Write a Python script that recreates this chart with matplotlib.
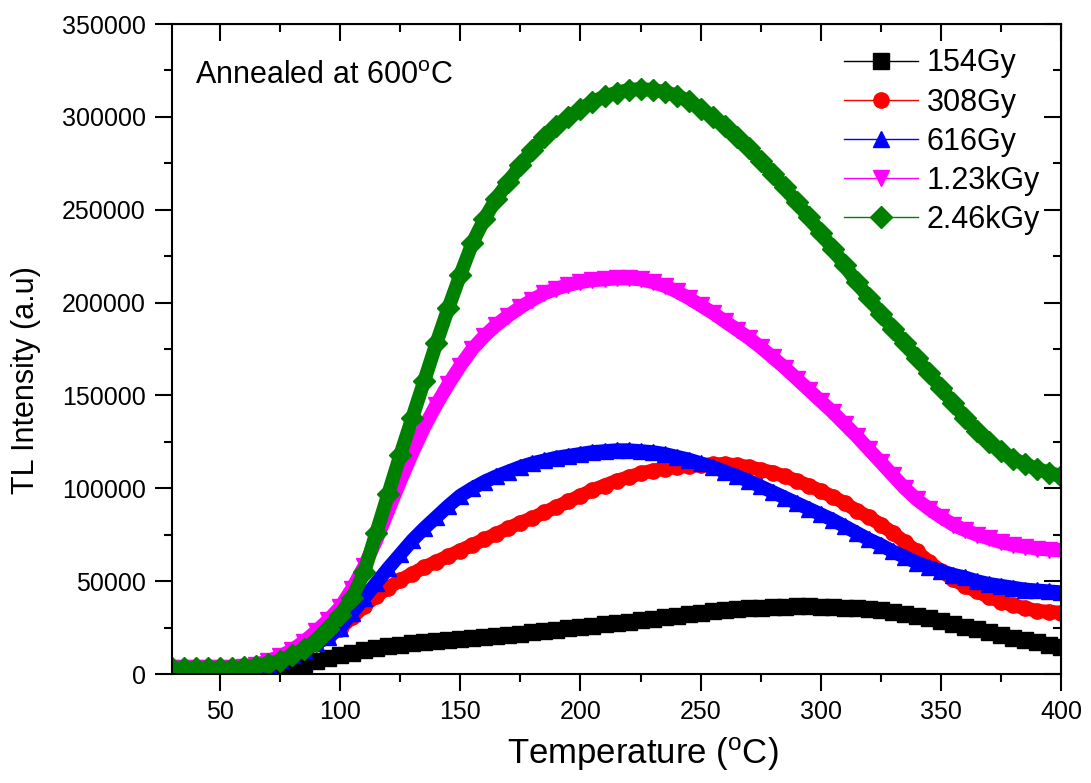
import numpy as np
import matplotlib
matplotlib.use("Agg")
import matplotlib.pyplot as plt
from matplotlib.ticker import MultipleLocator

plt.rcParams['font.family'] = ['Liberation Sans', 'DejaVu Sans']
plt.rcParams['mathtext.fontset'] = 'custom'
plt.rcParams['mathtext.rm'] = 'Liberation Sans'
plt.rcParams['mathtext.it'] = 'Liberation Sans:italic'

# temperature axis, 30..400 C
temp = np.arange(30, 401, 5)

# TL intensity (a.u.)
gy154 = [1000, 1000, 1000, 1000, 1000, 1000, 1000, 1200, 1600, 2500, 4000, 5500, 7000, 8500, 10000,
         11500, 12800, 14000, 15000, 15800, 16500, 17200, 17800, 18300, 18800, 19300, 19900, 20500, 21100, 21800,
         22500, 23200, 23900, 24600, 25300, 26000, 26700, 27400, 28200, 29000, 29800, 30600, 31400, 32200, 33000,
         33700, 34300, 34900, 35400, 35800, 36100, 36300, 36400, 36400, 36300, 36100, 35800, 35400, 34900, 34200,
         33400, 32400, 31200, 29900, 28500, 27000, 25500, 24000, 22500, 21000, 19500, 18200, 17000, 15800, 14700]

gy308 = [3000, 3000, 3000, 3000, 3000, 3100, 3400, 4200, 5500, 7500, 10000, 13000, 16500, 20000, 24500,
         30500, 36500, 42000, 46500, 50500, 54000, 57500, 60500, 63500, 66500, 69500, 72500, 75500, 78500, 81500,
         84000, 87000, 90000, 93000, 96000, 99000, 101500, 104000, 106000, 108000, 109500, 110500, 111500, 112000, 112500,
         113000, 113000, 112500, 111500, 110000, 108500, 106500, 104000, 101500, 98500, 95500, 92000, 88000, 84500, 80500,
         76000, 71000, 66000, 60500, 55500, 51000, 47500, 44500, 41500, 39000, 37000, 35500, 34000, 33500, 33000]

gy616 = [3000, 3000, 3000, 3000, 3000, 3100, 3400, 4200, 5500, 7500, 10000, 13000, 16500, 20000, 25000,
         33000, 41000, 49000, 57000, 64500, 72000, 78500, 84500, 90500, 96000, 100000, 103500, 106500, 109000, 111500,
         113500, 115000, 116500, 117500, 118500, 119500, 120000, 120500, 120500, 120000, 119500, 118500, 117000, 115500, 113500,
         111500, 109000, 106500, 104000, 101000, 98000, 95000, 92000, 89000, 86000, 83000, 79500, 76000, 72500, 69500,
         66000, 63000, 60000, 57500, 55500, 53500, 52000, 50000, 48500, 47500, 46500, 45500, 45000, 44500, 44000]

gy1230 = [3000, 3000, 3000, 3000, 3000, 3200, 3800, 5000, 7000, 9500, 13000, 17500, 23000, 29000, 36000,
          46000, 58000, 72000, 88000, 104000, 119000, 133000, 145000, 156000, 166000, 175000, 182000, 188000, 193000, 197500,
          201500, 205000, 207500, 209500, 211000, 212000, 212500, 213000, 213000, 212500, 211000, 209000, 206000, 202500, 198500,
          194500, 190000, 185500, 181000, 176000, 170500, 165000, 159000, 153000, 147000, 141000, 134500, 128000, 121000, 114000,
          107000, 100000, 94000, 89000, 84500, 80500, 77500, 75000, 73000, 71000, 69500, 68500, 67500, 67000, 66500]

gy2460 = [3000, 3000, 3000, 3000, 3000, 3200, 3600, 4500, 5500, 7000, 10000, 13500, 18000, 24500, 32000,
          41000, 55000, 76000, 97000, 118000, 138000, 158000, 178000, 197000, 215000, 232000, 245000, 256000, 265000, 274000,
          282000, 289000, 295000, 300000, 304000, 308000, 311000, 313000, 314500, 315000, 314500, 313500, 311500, 308500, 304500,
          300000, 295000, 289000, 283000, 276500, 269500, 262000, 254000, 246000, 237500, 229000, 220000, 211000, 202500, 194000,
          186000, 178000, 170000, 162000, 154000, 146000, 138000, 131000, 125000, 120000, 116000, 113000, 110500, 108500, 106500]

labels = ['154Gy', '308Gy', '616Gy', '1.23kGy', '2.46kGy']
colors = ['black', 'red', 'blue', 'magenta', 'green']
markers = ['s', 'o', '^', 'v', 'D']
series = [gy154, gy308, gy616, gy1230, gy2460]

fig = plt.figure(figsize=(10.91, 7.83), dpi=100)
ax = fig.add_axes([0.1577, 0.1392, 0.8148, 0.8301])

for vals, lab, c, m in zip(series, labels, colors, markers):
    # thick band under the markers, like the dense Origin symbols
    ax.plot(temp, vals, color=c, lw=10, solid_capstyle='round', zorder=2)
    ax.plot(temp, vals, color=c, lw=1, marker=m, ms=11, mec=c, mfc=c,
            label=lab, zorder=2)

ax.set_xlim(30, 400)
ax.set_ylim(0, 350000)
ax.xaxis.set_major_locator(MultipleLocator(50))
ax.xaxis.set_minor_locator(MultipleLocator(25))
ax.yaxis.set_major_locator(MultipleLocator(50000))
ax.yaxis.set_minor_locator(MultipleLocator(25000))

ax.tick_params(which='both', direction='out', labelsize=18, width=1.5, pad=7)
ax.tick_params(which='major', length=12)
ax.tick_params(which='minor', length=6)
for s in ax.spines.values():
    s.set_linewidth(1.5)

# inward ticks on the top and right frame
top = ax.secondary_xaxis('top')
top.xaxis.set_major_locator(MultipleLocator(50))
top.xaxis.set_minor_locator(MultipleLocator(25))
top.tick_params(which='both', direction='in', labeltop=False, width=1.5)
top.tick_params(which='major', length=12)
top.tick_params(which='minor', length=6)
right = ax.secondary_yaxis('right')
right.yaxis.set_major_locator(MultipleLocator(50000))
right.yaxis.set_minor_locator(MultipleLocator(25000))
right.tick_params(which='both', direction='in', labelright=False, width=1.5)
right.tick_params(which='major', length=12)
right.tick_params(which='minor', length=6)

ax.set_xlabel('Temperature ($^\\mathrm{o}$C)', fontsize=25)
ax.set_ylabel('TL Intensity (a.u)', fontsize=22)
ax.xaxis.set_label_coords(0.529, -0.095)
ax.yaxis.set_label_coords(-0.147, 0.452)

ax.text(39.5, 322000, 'Annealed at 600$^\\mathrm{o}$C', fontsize=22, va='center')

ax.legend(loc='upper right', bbox_to_anchor=(1.004, 1.0), frameon=False,
          fontsize=22, handlelength=2.4, handletextpad=0.3, labelspacing=0.3,
          borderaxespad=0.3, borderpad=0.5, markerscale=1.0)

fig.savefig('out.png', dpi=100)
